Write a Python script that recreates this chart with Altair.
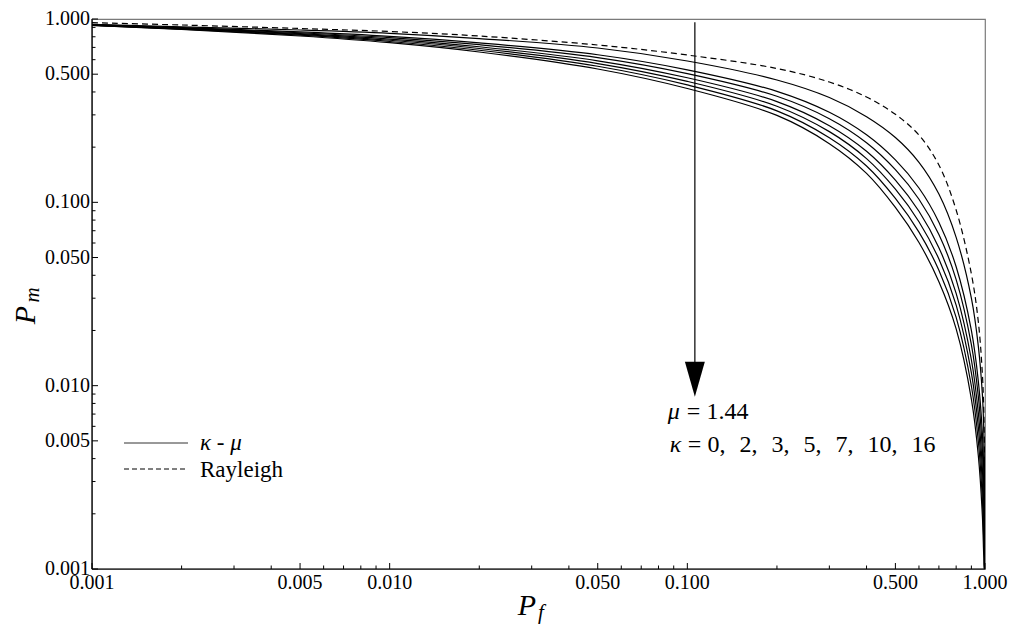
import altair as alt
import pandas as pd

# False-alarm probabilities at which every curve is sampled
pf = [0.001, 0.002, 0.005, 0.01, 0.02, 0.05, 0.1, 0.2, 0.3, 0.4, 0.5,
      0.6, 0.7, 0.8, 0.9, 0.95, 0.98, 0.99, 0.995, 0.999, 1.0]

# Missed-detection probability, Rayleigh fading
pm_rayleigh = [0.9546, 0.9274, 0.8875, 0.8547, 0.8077, 0.7213, 0.6360, 0.5370, 0.4531, 0.3754, 0.3020,
               0.2326, 0.1598, 0.0908, 0.0407, 0.0222, 0.01155, 0.00755, 0.00482, 0.00235, 0.001]

# Missed-detection probability, kappa-mu fading with mu = 1.44
kappas = [0, 2, 3, 5, 7, 10, 16]
pm_k0 = [0.9356, 0.9067, 0.8710, 0.8356, 0.7825, 0.6947, 0.5901, 0.4648, 0.3729, 0.2931, 0.2256,
         0.1653, 0.1109, 0.0644, 0.0300, 0.01634, 0.00894, 0.00594, 0.00395, 0.00207, 0.001]
pm_k2 = [0.9311, 0.8969, 0.8502, 0.8046, 0.7414, 0.6385, 0.5283, 0.4031, 0.3099, 0.2335, 0.1704,
         0.1197, 0.0779, 0.0445, 0.0200, 0.01052, 0.00549, 0.00355, 0.00255, 0.00164, 0.001]
pm_k3 = [0.9292, 0.8926, 0.8413, 0.7914, 0.7240, 0.6153, 0.5033, 0.3788, 0.2858, 0.2113, 0.1507,
         0.1040, 0.0668, 0.0379, 0.01674, 0.00868, 0.00443, 0.00284, 0.00210, 0.00148, 0.001]
pm_k5 = [0.9271, 0.8881, 0.8319, 0.7775, 0.7058, 0.5915, 0.4779, 0.3544, 0.2619, 0.1899, 0.1321,
         0.0894, 0.0566, 0.0319, 0.01385, 0.00706, 0.00352, 0.00223, 0.00171, 0.00133, 0.001]
pm_k7 = [0.9252, 0.8842, 0.8238, 0.7657, 0.6904, 0.5715, 0.4569, 0.3344, 0.2430, 0.1731, 0.1179,
         0.0784, 0.0491, 0.0275, 0.01175, 0.00591, 0.00289, 0.00181, 0.00143, 0.00121, 0.001]
pm_k10 = [0.9235, 0.8803, 0.8157, 0.7540, 0.6754, 0.5522, 0.4369, 0.3156, 0.2253, 0.1579, 0.1051,
          0.0688, 0.0426, 0.0236, 0.00996, 0.00494, 0.00237, 0.00147, 0.00119, 0.00110, 0.001]
pm_k16 = [0.9216, 0.8764, 0.8077, 0.7425, 0.6607, 0.5336, 0.4176, 0.2979, 0.2090, 0.1439, 0.0938,
          0.0604, 0.0369, 0.0204, 0.00845, 0.00413, 0.00194, 0.00119, 0.001, 0.001, 0.001]

# Axis tick positions
major_ticks = [0.001, 0.005, 0.01, 0.05, 0.1, 0.5, 1.0]
minor_ticks = [0.002, 0.003, 0.004, 0.006, 0.007, 0.008, 0.009,
               0.02, 0.03, 0.04, 0.06, 0.07, 0.08, 0.09,
               0.2, 0.3, 0.4, 0.6, 0.7, 0.8, 0.9]

# Annotation arrow (P_f position, top, base of head and tip in P_m)
arrow_pf = 0.106
arrow_top = 0.96
arrow_base = 0.0125
arrow_tip = 0.0087

km_rows = []
for k, values in zip(kappas, [pm_k0, pm_k2, pm_k3, pm_k5, pm_k7, pm_k10, pm_k16]):
    for x, y in zip(pf, values):
        km_rows.append({"curve": f"kappa={k}", "pf": x, "pm": y})
km = pd.DataFrame(km_rows)
ray = pd.DataFrame({"pf": pf, "pm": pm_rayleigh})

W, H = 893, 550
FONT = "Liberation Serif"
LABEL_SIZE = 20

xs = alt.Scale(type="log", domain=[0.001, 1.0], nice=False)
ys = alt.Scale(type="log", domain=[0.001, 1.0], nice=False)


def X(field):
    return alt.X(field, scale=xs, axis=None)


def Y(field):
    return alt.Y(field, scale=ys, axis=None)


solid = alt.Chart(km).mark_line(color="black", strokeWidth=1.2, interpolate="catmull-rom", clip=True).encode(
    x=X("pf:Q"), y=Y("pm:Q"), detail="curve:N",
)
dashed = alt.Chart(ray).mark_line(color="black", strokeWidth=1.2, strokeDash=[6, 4],
                                  interpolate="catmull-rom", clip=True).encode(
    x=X("pf:Q"), y=Y("pm:Q"),
)

# Axis lines on the left and bottom
frame = pd.DataFrame({"k": [0]})
left_line = alt.Chart(frame).mark_rule(color="black", strokeWidth=1.2).encode(
    x=alt.value(0), y=alt.value(0), y2=alt.value(H))
bottom_line = alt.Chart(frame).mark_rule(color="black", strokeWidth=1.2).encode(
    x=alt.value(0), x2=alt.value(W), y=alt.value(H))


# Inward tick marks
def x_ticks(values, length):
    return alt.Chart(pd.DataFrame({"v": values})).mark_rule(color="black", strokeWidth=1).encode(
        x=X("v:Q"), y=alt.value(H), y2=alt.value(H - length))


def y_ticks(values, length):
    return alt.Chart(pd.DataFrame({"v": values})).mark_rule(color="black", strokeWidth=1).encode(
        y=Y("v:Q"), x=alt.value(0), x2=alt.value(length))


tick_df = pd.DataFrame({"v": major_ticks})
x_labels = alt.Chart(tick_df).mark_text(font=FONT, fontSize=LABEL_SIZE, color="black",
                                        align="center", baseline="middle").encode(
    x=X("v:Q"), y=alt.value(H + 14), text=alt.Text("v:Q", format=".3f"))
y_labels = alt.Chart(tick_df).mark_text(font=FONT, fontSize=LABEL_SIZE, color="black",
                                        align="right", baseline="middle").encode(
    y=Y("v:Q"), x=alt.value(-2), text=alt.Text("v:Q", format=".3f"))

# Arrow with a filled head
arrow_df = pd.DataFrame({"x": [arrow_pf], "y1": [arrow_top], "y2": [arrow_base], "tip": [arrow_tip]})
arrow_line = alt.Chart(arrow_df).mark_rule(color="black", strokeWidth=1.2).encode(
    x=X("x:Q"), y=Y("y1:Q"), y2="y2:Q")
arrow_head = alt.Chart(arrow_df).mark_point(
    shape="M -0.57 -2 L 0.57 -2 L 0 0 Z", size=1225, filled=True, color="black",
    opacity=1, strokeWidth=0).encode(x=X("x:Q"), y=Y("tip:Q"))


def note(text, dx, dy, italic=False, size=24):
    return alt.Chart(pd.DataFrame({"x": [arrow_pf], "y": [arrow_tip], "t": [text]})).mark_text(
        font=FONT, fontSize=size, fontStyle="italic" if italic else "normal", color="black",
        align="left", baseline="middle", dx=dx, dy=dy).encode(
        x=X("x:Q"), y=Y("y:Q"), text="t:N")


gap = "\u00a0\u00a0\u200a"
kappa_list = ("," + gap).join(str(k) for k in kappas)


def label(text, x, y, size, italic=False, angle=0, align="left"):
    return alt.Chart(pd.DataFrame({"t": [text]})).mark_text(
        font=FONT, fontSize=size, fontStyle="italic" if italic else "normal", color="black",
        align=align, baseline="middle", angle=angle).encode(
        x=alt.value(x), y=alt.value(y), text="t:N")


def key_line(y, dash=None, color="black"):
    kw = {"strokeDash": dash} if dash else {}
    return alt.Chart(frame).mark_rule(color=color, strokeWidth=1, **kw).encode(
        x=alt.value(32), x2=alt.value(96), y=alt.value(y))


layers = [
    solid, dashed,
    left_line, bottom_line,
    x_ticks(major_ticks, 6), x_ticks(minor_ticks, 3.5),
    y_ticks(major_ticks, 6), y_ticks(minor_ticks, 3.5),
    x_labels, y_labels,
    arrow_line, arrow_head,
    note("\u03bc", -27, 15, italic=True),
    note("= 1.44", -8, 15),
    note("\u03ba", -25, 48, italic=True),
    note("=\u00a0" + kappa_list, -7, 48),
    key_line(424, color="#333333"),
    key_line(450, dash=[5, 3]),
    label("\u03ba - \u03bc", 108, 424, 23, italic=True),
    label("Rayleigh", 108, 451, 23),
    # axis titles with subscripts
    label("P", -66, 296, 30, italic=True, angle=270, align="center"),
    label("m", -59, 276, 21, italic=True, angle=270, align="center"),
    label("P", 435, 587, 30, italic=True, align="center"),
    label("f", 449, 594, 21, italic=True, align="center"),
]

chart = alt.layer(*layers).properties(
    width=W, height=H,
    autosize=alt.AutoSizeParams(type="none"),
    padding={"left": 92, "top": 19, "right": 26, "bottom": 56},
    background="white",
).configure_view(stroke="#7a7a7a", strokeWidth=1.2)

chart.save("out.html", embed_options={"renderer": "svg", "actions": False})
